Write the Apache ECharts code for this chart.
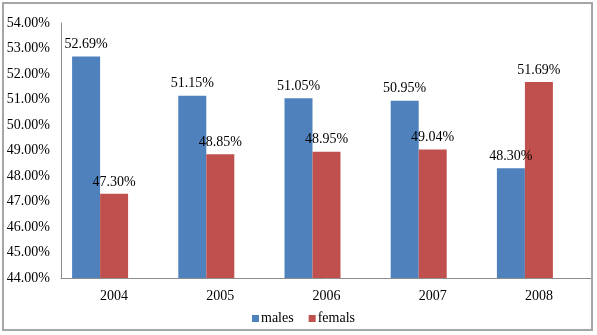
<!DOCTYPE html>
<html>
<head>
<meta charset="utf-8">
<script src="https://cdn.jsdelivr.net/npm/echarts@6/dist/echarts.min.js"></script>
<style>
html,body{margin:0;padding:0;background:#fff;}
#c{width:597px;height:335px;}
</style>
</head>
<body>
<div id="c"></div>
<script>
var categories = ['2004', '2005', '2006', '2007', '2008'];
var males = [52.69, 51.15, 51.05, 50.95, 48.30];
var femals = [47.30, 48.85, 48.95, 49.04, 51.69];
var seriesNames = ['males', 'femals'];
var seriesColors = ['#4F81BD', '#C0504D'];

var chart = echarts.init(document.getElementById('c'), null, {renderer: 'canvas'});
var font = "'Liberation Serif', serif";
var cssFont = "14px 'Liberation Serif', serif";
var labelCfg = {
  show: true, position: 'top', distance: 5, color: '#000',
  fontFamily: font, fontSize: 14,
  formatter: function (p) { return p.value.toFixed(2) + '%'; }
};
// legend built from series names/colours
var mctx = document.createElement('canvas').getContext('2d');
mctx.font = cssFont;
var legendChildren = [];
var lx = 0;
seriesNames.forEach(function (n, i) {
  legendChildren.push({type: 'rect', shape: {x: lx, y: 4, width: 7, height: 7},
    style: {fill: seriesColors[i]}});
  legendChildren.push({type: 'text', x: lx + 9, y: 0,
    style: {text: n, fill: '#000', font: cssFont, textVerticalAlign: 'top'}});
  lx += 9 + mctx.measureText(n).width + 15;
});
chart.setOption({
  animation: false,
  textStyle: {fontFamily: font},
  graphic: [{
    type: 'rect', shape: {x: 3, y: 3, width: 589, height: 327},
    style: {fill: 'none', stroke: '#a6a6a6', lineWidth: 2},
    z: 100
  }, {
    type: 'group', left: 252, top: 311, children: legendChildren
  }],
  grid: {left: 61, right: 5, top: 23, bottom: 57},
  xAxis: {
    type: 'category', data: categories,
    axisLine: {lineStyle: {color: '#8c8c8c', width: 1}},
    axisTick: {show: false},
    axisLabel: {color: '#000', fontFamily: font, fontSize: 14, margin: 11}
  },
  yAxis: {
    type: 'value', min: 44, max: 54, interval: 1,
    axisLine: {show: true, lineStyle: {color: '#8c8c8c', width: 1}},
    axisTick: {show: false},
    splitLine: {show: false},
    axisLabel: {color: '#000', fontFamily: font, fontSize: 14, margin: 11,
      formatter: function (v) { return v.toFixed(2) + '%'; }}
  },
  series: [
    {name: 'males', type: 'bar', data: males, barWidth: 28, barGap: '0%',
     itemStyle: {color: seriesColors[0]}, label: labelCfg},
    {name: 'femals', type: 'bar', data: femals, barWidth: 28, barGap: '0%',
     itemStyle: {color: seriesColors[1]}, label: labelCfg},
    {name: 'spacer', type: 'bar', data: categories.map(function () { return null; }),
     barWidth: 28, barGap: '0%', itemStyle: {color: 'transparent'}}
  ]
});
</script>
</body>
</html>
